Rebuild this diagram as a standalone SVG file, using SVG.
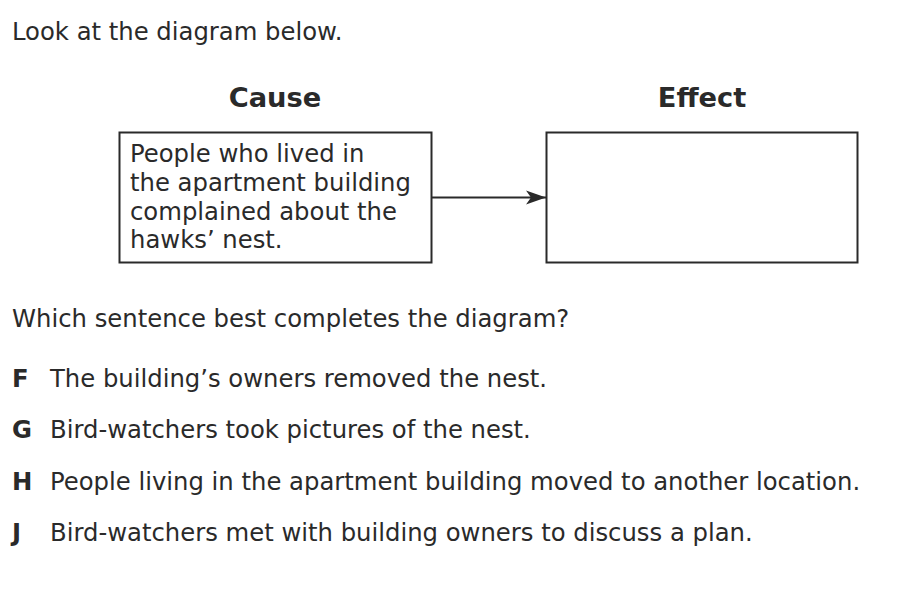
<svg xmlns="http://www.w3.org/2000/svg" width="900" height="597" viewBox="0 0 900 597">
<style>
text{font-family:"DejaVu Sans","Verdana",sans-serif;fill:#2a2a2a;font-size:24.3px}
.b{font-weight:bold}
.h{font-weight:bold;font-size:27.3px;text-anchor:middle}
.box{fill:#fff;stroke:#2a2a2a;stroke-width:2}
.ln{stroke:#2a2a2a;stroke-width:2;fill:none}
</style>
<defs>
<marker id="ah" viewBox="0 0 20 16" refX="20" refY="8" markerWidth="20" markerHeight="16" markerUnits="userSpaceOnUse" orient="auto">
<path d="M0,1 L20,8 L0,15 L5,8 Z" fill="#2a2a2a"/>
</marker>
</defs>
<rect width="900" height="597" fill="#fff"/>
<text x="12" y="40">Look at the diagram below.</text>
<g id="cause">
<text class="h" x="275" y="107">Cause</text>
<rect class="box" x="119.5" y="132.5" width="312" height="130"/>
<text x="130" y="162">People who lived in</text>
<text x="130" y="191">the apartment building</text>
<text x="130" y="220">complained about the</text>
<text x="130" y="248">hawks’ nest.</text>
</g>
<g id="effect">
<text class="h" x="702" y="107">Effect</text>
<rect class="box" x="546.5" y="132.5" width="311" height="130"/>
</g>
<g id="connectors">
<line class="ln" x1="432" y1="197.5" x2="546" y2="197.5" marker-end="url(#ah)"/>
</g>
<text x="12" y="327">Which sentence best completes the diagram?</text>
<g id="options">
<text class="b" x="12" y="387">F</text><text x="50" y="387">The building’s owners removed the nest.</text>
<text class="b" x="12" y="438">G</text><text x="50" y="438">Bird-watchers took pictures of the nest.</text>
<text class="b" x="12" y="490">H</text><text x="50" y="490">People living in the apartment building moved to another location.</text>
<text class="b" x="12" y="541">J</text><text x="50" y="541">Bird-watchers met with building owners to discuss a plan.</text>
</g>
</svg>
